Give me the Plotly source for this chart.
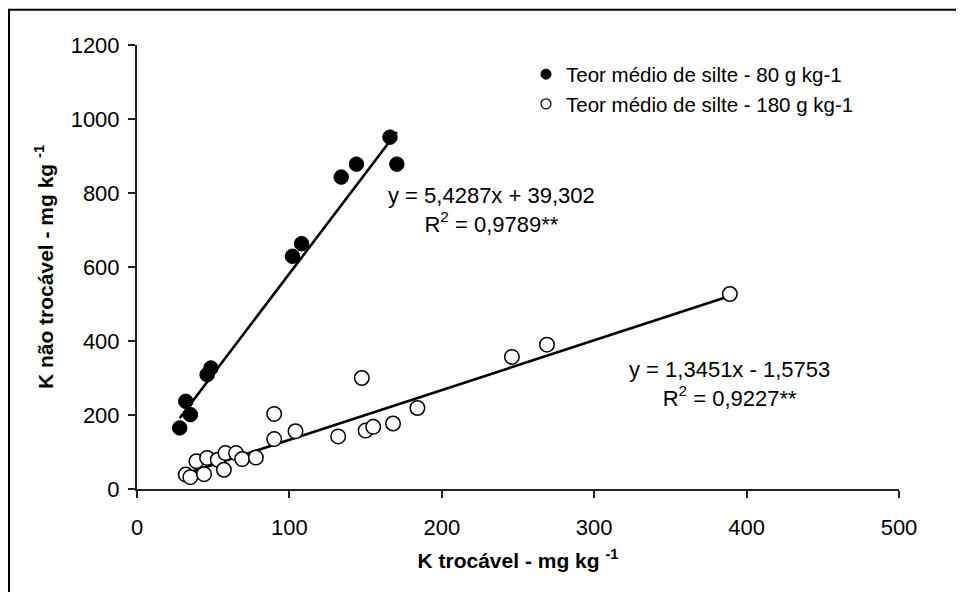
import plotly.graph_objects as go

# ---- data ----
silte80_x = [28, 32, 35, 46, 48.5, 102, 108, 134, 144, 166, 170.5]
silte80_y = [165, 237, 201, 309, 327, 629, 663, 843, 878, 951, 878]

silte180_x = [32, 35, 39, 44, 46, 53, 57, 58, 65, 69, 78, 90, 90, 104, 132,
              147.5, 150, 155, 168, 184, 246, 269, 389]
silte180_y = [39, 32, 75, 40, 84, 79, 52, 97, 97, 81, 85, 203, 135, 156, 142,
              300, 158, 168, 177, 219, 357, 390, 527]

fit80 = (5.4287, 39.302)
fit180 = (1.3451, -1.5753)

name80 = "Teor médio de silte - 80 g kg-1"
name180 = "Teor médio de silte - 180 g kg-1"
eq80 = "y = 5,4287x + 39,302<br>R<sup>2</sup> = 0,9789**"
eq180 = "y = 1,3451x - 1,5753<br>R<sup>2</sup> = 0,9227**"

x_ticks = [0, 100, 200, 300, 400, 500]
y_ticks = [0, 200, 400, 600, 800, 1000, 1200]

FONT = "Arial, Liberation Sans, sans-serif"

fig = go.Figure()

# trend lines over data range
for xs, (a, b) in ((silte80_x, fit80), (silte180_x, fit180)):
    x0, x1 = min(xs), max(xs)
    fig.add_trace(go.Scatter(x=[x0, x1], y=[a * x0 + b, a * x1 + b], mode="lines",
                             line=dict(color="black", width=2.6), showlegend=False,
                             hoverinfo="skip"))

fig.add_trace(go.Scatter(x=silte80_x, y=silte80_y, mode="markers", showlegend=False,
                         marker=dict(size=14.5, color="black", line=dict(color="black", width=1))))
fig.add_trace(go.Scatter(x=silte180_x, y=silte180_y, mode="markers", showlegend=False,
                         marker=dict(size=14.5, color="white", line=dict(color="black", width=1.5))))

# legend entries
fig.add_trace(go.Scatter(x=[None], y=[None], mode="markers", name=name80,
                         marker=dict(size=10, color="black", line=dict(color="black", width=1))))
fig.add_trace(go.Scatter(x=[None], y=[None], mode="markers", name=name180,
                         marker=dict(size=10, color="white", line=dict(color="black", width=1.2))))

fig.add_annotation(x=0.465, y=0.629, xref="paper", yref="paper", text=eq80, showarrow=False,
                   xanchor="center", yanchor="middle",
                   font=dict(size=22, color="black", family=FONT), align="center")
fig.add_annotation(x=0.778, y=0.237, xref="paper", yref="paper", text=eq180, showarrow=False,
                   xanchor="center", yanchor="middle",
                   font=dict(size=22, color="black", family=FONT), align="center")

# outer frame
fig.add_shape(type="rect", xref="paper", yref="paper", x0=-0.168, y0=-0.35, x1=1.2, y1=1.0795,
              line=dict(color="black", width=2), fillcolor="rgba(0,0,0,0)")

fig.update_layout(
    width=956, height=584,
    margin=dict(l=129, r=65, t=37, b=103),
    paper_bgcolor="white", plot_bgcolor="white",
    font=dict(family=FONT, color="black", size=22),
    legend=dict(x=0.5105, y=0.979, xanchor="left", yanchor="top", bgcolor="rgba(0,0,0,0)",
                font=dict(size=20.5, family=FONT, color="black"), tracegroupgap=0,
                itemsizing="trace"),
    xaxis=dict(range=[0, 500], tickvals=x_ticks, showgrid=False, zeroline=False,
               showline=True, linecolor="#222", linewidth=2, ticks="outside", ticklen=7,
               tickwidth=2, tickcolor="#222", ticklabelstandoff=11,
               title=dict(text="<b>K trocável - mg kg <sup>-1</sup></b>", standoff=14,
                          font=dict(size=21))),
    yaxis=dict(range=[0, 1200], tickvals=y_ticks, showgrid=False, zeroline=False,
               showline=True, linecolor="#222", linewidth=2, ticks="outside", ticklen=7,
               tickwidth=2, tickcolor="#222", ticklabelstandoff=4,
               title=dict(text="<b>K não trocável - mg kg <sup>-1</sup></b>", standoff=11,
                          font=dict(size=21))),
)

fig.write_html("out.html")
